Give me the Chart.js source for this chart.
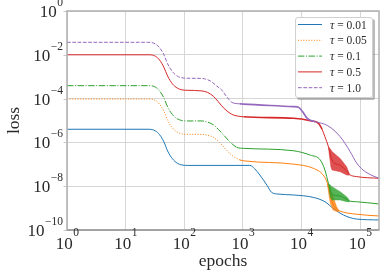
<!DOCTYPE html>
<html><head><meta charset="utf-8">
<script src="https://cdn.jsdelivr.net/npm/chart.js@4/dist/chart.umd.min.js"></script>
<style>html,body{margin:0;padding:0;background:#fff;overflow:hidden}</style>
</head><body>
<canvas id="c" width="383" height="275" style="width:383px;height:275px;display:block"></canvas>
<script>
// ---- data ----
const tauLabels = ['0.01', '0.05', '0.1', '0.5', '1.0'];
const xTickValues = [1, 10, 100, 1000, 10000, 100000];
const xTickExponents = ['0', '1', '2', '3', '4', '5'];
const yTickValues = [1e-10, 1e-8, 1e-6, 1e-4, 1e-2, 1];
const yTickExponents = ['\u221210', '\u22128', '\u22126', '\u22124', '\u22122', '0'];

const epochs_tau001 = [1, 25, 32, 38, 45, 52, 63, 76, 91, 112, 1318, 1585, 1950, 2570, 3090, 3981, 7244, 15850, 25120, 34670, 52480, 87100, 210000];
const loss_tau001 = [3.98e-6, 3.98e-6, 3.39e-6, 2.24e-6, 1.05e-6, 4.07e-7, 1.78e-7, 1.12e-7, 9.33e-8, 8.91e-8, 8.91e-8, 6.31e-8, 3.24e-8, 1.12e-8, 5.25e-9, 4.37e-9, 3.98e-9, 3.09e-9, 1.95e-9, 9.77e-10, 4.79e-10, 3.16e-10, 2.88e-10];

const epochs_tau005 = [1, 25, 32, 38, 45, 52, 63, 76, 91, 112, 200, 251, 316, 398, 525, 661, 891, 1122, 7244, 15850, 23440, 27540, 30900, 34670, 39810, 43650, 87100, 210000];
const loss_tau005 = [9.55e-5, 9.55e-5, 8.32e-5, 5.50e-5, 2.63e-5, 1.02e-5, 4.57e-6, 2.95e-6, 2.45e-6, 2.34e-6, 2.34e-6, 2.09e-6, 1.70e-6, 1.0e-6, 4.47e-7, 2.51e-7, 1.58e-7, 1.41e-7, 1.02e-7, 6.61e-8, 3.24e-8, 1.41e-8, 3.98e-9, 1.58e-9, 8.91e-10, 7.59e-10, 5.25e-10, 4.37e-10];
const bandEpochs_tau005 = [27540, 30900, 34670, 39810, 43650];
const bandHigh_tau005 = [1.41e-8, 7.94e-9, 3.31e-9, 1.15e-9, 7.59e-10];
const bandLow_tau005 = [1.26e-8, 1.66e-9, 8.13e-10, 6.92e-10, 6.76e-10];

const epochs_tau01 = [1, 25, 32, 38, 45, 52, 63, 76, 91, 112, 200, 251, 316, 380, 468, 603, 794, 1023, 7244, 14125, 20900, 25100, 28840, 33110, 45710, 58880, 66070, 87100, 210000];
const loss_tau01 = [3.89e-4, 3.89e-4, 3.39e-4, 2.24e-4, 1.07e-4, 4.17e-5, 1.86e-5, 1.20e-5, 1.0e-5, 9.55e-6, 9.55e-6, 8.32e-6, 6.31e-6, 3.98e-6, 2.19e-6, 1.05e-6, 5.89e-7, 5.37e-7, 4.17e-7, 2.63e-7, 1.58e-7, 5.50e-8, 1.35e-8, 4.47e-9, 3.55e-9, 2.51e-9, 2.09e-9, 1.95e-9, 1.55e-9];
const bandEpochs_tau01 = [28840, 30900, 33110, 45710, 58880, 66070];
const bandHigh_tau01 = [1.35e-8, 1.12e-8, 9.55e-9, 5.62e-9, 3.31e-9, 2.24e-9];
const bandLow_tau01 = [1.26e-8, 3.16e-9, 2.34e-9, 2.34e-9, 1.95e-9, 1.91e-9];

const epochs_tau05 = [1, 25, 32, 38, 45, 52, 63, 76, 91, 112, 200, 251, 316, 380, 479, 603, 692, 1023, 7244, 14125, 19500, 22400, 25100, 28840, 33110, 45710, 58880, 66070, 87100, 210000];
const loss_tau05 = [1e-2, 1e-2, 8.71e-3, 5.75e-3, 2.69e-3, 1.07e-3, 4.68e-4, 3.02e-4, 2.51e-4, 2.40e-4, 2.24e-4, 1.91e-4, 1.26e-4, 7.24e-5, 3.55e-5, 2.14e-5, 1.78e-5, 1.48e-5, 1.26e-5, 9.77e-6, 7.41e-6, 3.98e-6, 1.82e-6, 6.31e-7, 1.58e-7, 8.91e-8, 5.01e-8, 3.39e-8, 2.75e-8, 2.29e-8];
const bandEpochs_tau05 = [28840, 31620, 33110, 45710, 58880, 66070];
const bandHigh_tau05 = [6.31e-7, 4.68e-7, 3.80e-7, 1.86e-7, 7.76e-8, 3.55e-8];
const bandLow_tau05 = [5.62e-7, 7.94e-8, 5.50e-8, 4.57e-8, 3.24e-8, 3.16e-8];

const epochs_tau10 = [1, 25, 32, 38, 45, 52, 63, 76, 91, 112, 200, 282, 355, 437, 525, 646, 891, 1023, 7244, 8913, 10470, 12300, 14450, 17000, 28200, 45700, 67600, 87100, 112200, 166000, 210000];
const loss_tau10 = [3.72e-2, 3.72e-2, 3.16e-2, 2.09e-2, 1.0e-2, 3.89e-3, 1.70e-3, 1.07e-3, 8.9e-4, 8.5e-4, 8.3e-4, 6.3e-4, 3.8e-4, 2.45e-4, 1.26e-4, 6.8e-5, 5.75e-5, 5.6e-5, 4.3e-5, 4.0e-5, 2.5e-5, 1.32e-5, 1.0e-5, 8.9e-6, 5.75e-6, 1.82e-6, 3.8e-7, 1.15e-7, 5.5e-8, 2.95e-8, 2.34e-8];

// ---- styling ----
const colors = ['#1f77b4', '#ff7f0e', '#2ca02c', '#d62728', '#9467bd'];
const bandColors = ['rgba(31,119,180,0.8)', 'rgba(255,127,14,0.8)', 'rgba(44,160,44,0.8)', 'rgba(214,39,40,0.8)', 'rgba(148,103,189,0.8)'];
const dashes = [[], [1, 1.65], [6.4, 1.6, 1, 1.6], [], [3.7, 1.6]];
// noisy late-training segments look solid (and thicker for some series)
const solidFrom = [0, 800, 700, 0, 600];
const thickRange = [null, null, null, [900, 23000], [800, 18000]];
const SERIF = '"Liberation Serif", "DejaVu Serif", serif';
const TXT = '#2a2a2a';

const pts = (xs, ys) => xs.map((x, i) => ({x: x, y: ys[i]}));
const lineDs = (xs, ys, i, order) => ({
  data: pts(xs, ys), borderColor: colors[i], borderWidth: 1, borderDash: dashes[i],
  pointRadius: 0, fill: false, cubicInterpolationMode: 'monotone', order: order,
  segment: {
    borderDash: c => (solidFrom[i] && c.p0.parsed.x >= solidFrom[i]) ? [] : undefined,
    borderWidth: c => (thickRange[i] && c.p0.parsed.x >= thickRange[i][0] && c.p1.parsed.x <= thickRange[i][1]) ? 1.6 : undefined
  }
});
const bandDs = (xs, ys, i, order, fillPrev) => ({
  data: pts(xs, ys), borderColor: bandColors[i], borderWidth: 0.5,
  backgroundColor: bandColors[i], pointRadius: 0, tension: 0,
  fill: fillPrev ? '-1' : false, order: order
});

const datasets = [
  lineDs(epochs_tau001, loss_tau001, 0, 10),
  lineDs(epochs_tau005, loss_tau005, 1, 8),
  lineDs(epochs_tau01, loss_tau01, 2, 6),
  lineDs(epochs_tau05, loss_tau05, 3, 4),
  lineDs(epochs_tau10, loss_tau10, 4, 2),
  bandDs(bandEpochs_tau005, bandLow_tau005, 1, 7.5, false),
  bandDs(bandEpochs_tau005, bandHigh_tau005, 1, 7.5, true),
  bandDs(bandEpochs_tau01, bandLow_tau01, 2, 5.5, false),
  bandDs(bandEpochs_tau01, bandHigh_tau01, 2, 5.5, true),
  bandDs(bandEpochs_tau05, bandLow_tau05, 3, 3.5, false),
  bandDs(bandEpochs_tau05, bandHigh_tau05, 3, 3.5, true)
];

const BASE_FONT = '17px ' + SERIF, EXP_FONT = '11.5px ' + SERIF;
function powWidths(ctx, base, exp) {
  ctx.font = BASE_FONT; const wb = ctx.measureText(base).width;
  ctx.font = EXP_FONT; const we = ctx.measureText(exp).width;
  return [wb, we];
}
function drawPow(ctx, base, exp, xLeft, baseY, expY) {
  const w = powWidths(ctx, base, exp);
  ctx.font = BASE_FONT; ctx.fillText(base, xLeft, baseY);
  ctx.font = EXP_FONT; ctx.fillText(exp, xLeft + w[0] + 0.5, expY);
}

const decor = {
  id: 'decor',
  afterDatasetsDraw(chart) {
    const ctx = chart.ctx, a = chart.chartArea, xs = chart.scales.x, ys = chart.scales.y;
    ctx.save();
    // y tick marks
    ctx.strokeStyle = '#c8c8c8'; ctx.lineWidth = 1;
    yTickValues.forEach(v => {
      const py = Math.round(ys.getPixelForValue(v)) + 0.5;
      ctx.beginPath(); ctx.moveTo(a.left - 3.5, py); ctx.lineTo(a.left, py); ctx.stroke();
    });
    // spines
    ctx.strokeStyle = '#b3b3b3'; ctx.lineWidth = 1.6;
    ctx.strokeRect(a.left, a.top, a.right - a.left, a.bottom - a.top);
    ctx.strokeStyle = '#9a9a9a';
    ctx.beginPath(); ctx.moveTo(a.left, a.bottom); ctx.lineTo(a.right, a.bottom); ctx.stroke();

    // tick labels
    ctx.fillStyle = TXT; ctx.textAlign = 'left'; ctx.textBaseline = 'alphabetic';
    yTickValues.forEach((v, i) => {
      const py = ys.getPixelForValue(v);
      const w = powWidths(ctx, '10', yTickExponents[i]);
      drawPow(ctx, '10', yTickExponents[i], a.left - 4 - w[0] - w[1] - 0.5, py + 6, py - 5);
    });
    xTickValues.forEach((v, i) => {
      const px = xs.getPixelForValue(v);
      const w = powWidths(ctx, '10', xTickExponents[i]);
      drawPow(ctx, '10', xTickExponents[i], px - (w[0] + w[1]) / 2, a.bottom + 19, a.bottom + 5.5);
    });
    // axis titles
    ctx.font = '17.5px ' + SERIF; ctx.textAlign = 'center';
    ctx.fillText('epochs', (a.left + a.right) / 2, a.bottom + 36);
    ctx.save();
    ctx.translate(18.5, (a.top + a.bottom) / 2);
    ctx.rotate(-Math.PI / 2);
    ctx.fillText('loss', 0, 0);
    ctx.restore();

    // legend
    const bw = 78, bh = 81;
    const bx = a.right - 6 - bw, by = a.top + 6;
    const rr = (x, y, w, h, r) => {
      ctx.beginPath();
      ctx.moveTo(x + r, y); ctx.lineTo(x + w - r, y); ctx.quadraticCurveTo(x + w, y, x + w, y + r);
      ctx.lineTo(x + w, y + h - r); ctx.quadraticCurveTo(x + w, y + h, x + w - r, y + h);
      ctx.lineTo(x + r, y + h); ctx.quadraticCurveTo(x, y + h, x, y + h - r);
      ctx.lineTo(x, y + r); ctx.quadraticCurveTo(x, y, x + r, y); ctx.closePath();
    };
    ctx.fillStyle = 'rgba(120,120,120,0.5)';
    rr(bx + 2, by + 2, bw, bh, 2.5); ctx.fill();
    ctx.fillStyle = '#ffffff';
    rr(bx, by, bw, bh, 2.5); ctx.fill();
    ctx.strokeStyle = '#d0d0d0'; ctx.lineWidth = 1;
    rr(bx + 0.5, by + 0.5, bw - 1, bh - 1, 2.5); ctx.stroke();
    tauLabels.forEach((t, i) => {
      const ry = by + 7.5 + i * 15.8;
      ctx.strokeStyle = colors[i]; ctx.lineWidth = 1; ctx.setLineDash(dashes[i]);
      ctx.beginPath(); ctx.moveTo(bx + 3, ry); ctx.lineTo(bx + 27, ry); ctx.stroke();
      ctx.setLineDash([]);
      ctx.fillStyle = TXT; ctx.textAlign = 'left';
      ctx.font = 'italic 12px ' + SERIF;
      const tx = bx + 35;
      ctx.fillText('\u03c4', tx, ry + 4);
      const wt = ctx.measureText('\u03c4').width;
      ctx.font = '11.5px ' + SERIF;
      ctx.fillText(' = ' + t, tx + wt, ry + 4);
    });
    ctx.restore();
  }
};

new Chart(document.getElementById('c'), {
  type: 'line',
  data: {datasets: datasets},
  options: {
    responsive: false, animation: false, devicePixelRatio: 1,
    layout: {padding: {top: 11, right: 4, left: 0, bottom: 0}},
    plugins: {legend: {display: false}, tooltip: {enabled: false}},
    scales: {
      x: {
        type: 'logarithmic', min: 1, max: 210000,
        afterBuildTicks: s => { s.ticks = xTickValues.map(v => ({value: v})); },
        afterFit: s => { s.height = 45; },
        ticks: {display: false},
        grid: {color: '#d6d6d6', lineWidth: 1, drawTicks: false},
        border: {display: false}
      },
      y: {
        type: 'logarithmic', min: 1e-10, max: 1,
        afterBuildTicks: s => { s.ticks = yTickValues.map(v => ({value: v})); },
        afterFit: s => { s.width = 67; },
        ticks: {display: false},
        grid: {color: '#d6d6d6', lineWidth: 1, drawTicks: false},
        border: {display: false}
      }
    }
  },
  plugins: [decor]
});
</script>
</body></html>
